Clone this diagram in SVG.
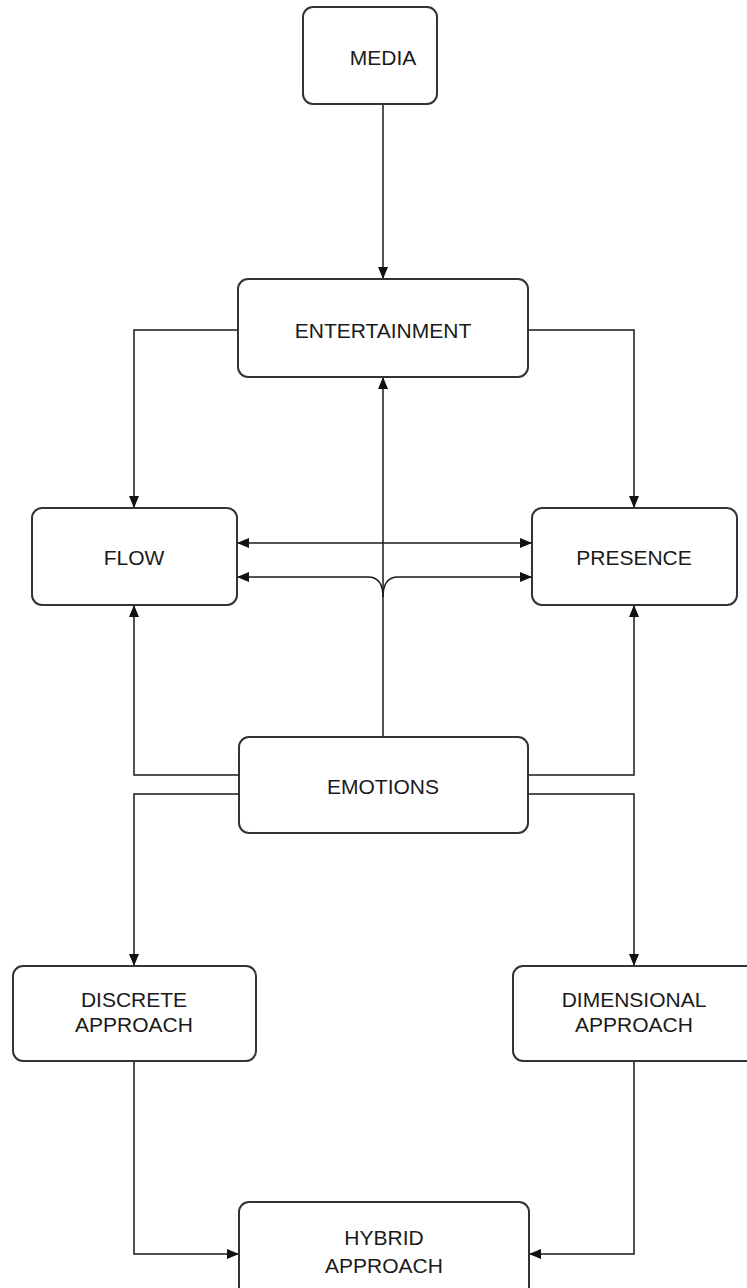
<svg xmlns="http://www.w3.org/2000/svg" width="747" height="1288" viewBox="0 0 747 1288">
<defs>
<marker id="ah" viewBox="0 0 12 10" refX="12" refY="5" markerWidth="12" markerHeight="10" markerUnits="userSpaceOnUse" orient="auto-start-reverse">
<path d="M0,0 L12,5 L0,10 z" fill="#111"/>
</marker>
<style>
.box{fill:#fff;stroke:#333;stroke-width:2}
.lbl{font-family:"Liberation Sans",Arial,sans-serif;font-size:21px;fill:#1a1a1a;text-anchor:middle}
.c{fill:none;stroke:#1a1a1a;stroke-width:1.5}
</style>
</defs>
<rect width="747" height="1288" fill="#fff"/>
<g id="connectors">
<path class="c" d="M383,104 V279" marker-end="url(#ah)"/>
<path class="c" d="M238,330 H134 V508" marker-end="url(#ah)"/>
<path class="c" d="M528,330 H634 V508" marker-end="url(#ah)"/>
<path class="c" d="M383,737 V377" marker-end="url(#ah)"/>
<path class="c" d="M237,543 H532" marker-start="url(#ah)" marker-end="url(#ah)"/>
<path class="c" d="M237,577 H368 Q383,577 383,597 Q383,577 398,577 H532" marker-start="url(#ah)" marker-end="url(#ah)"/>
<path class="c" d="M239,775 H134 V605" marker-end="url(#ah)"/>
<path class="c" d="M239,794 H134 V966" marker-end="url(#ah)"/>
<path class="c" d="M528,775 H634 V605" marker-end="url(#ah)"/>
<path class="c" d="M528,794 H634 V966" marker-end="url(#ah)"/>
<path class="c" d="M134,1061 V1254 H239" marker-end="url(#ah)"/>
<path class="c" d="M634,1061 V1254 H529" marker-end="url(#ah)"/>
</g>
<g id="media"><rect class="box" x="303" y="7" width="134" height="97" rx="10"/><text class="lbl" x="383" y="65">MEDIA</text></g>
<g id="entertainment"><rect class="box" x="238" y="279" width="290" height="98" rx="10"/><text class="lbl" x="383" y="338">ENTERTAINMENT</text></g>
<g id="flow"><rect class="box" x="32" y="508" width="205" height="97" rx="10"/><text class="lbl" x="134" y="565">FLOW</text></g>
<g id="presence"><rect class="box" x="532" y="508" width="205" height="97" rx="10"/><text class="lbl" x="634" y="565">PRESENCE</text></g>
<g id="emotions"><rect class="box" x="239" y="737" width="289" height="96" rx="10"/><text class="lbl" x="383" y="794">EMOTIONS</text></g>
<g id="discrete"><rect class="box" x="13" y="966" width="243" height="95" rx="10"/><text class="lbl" x="134" y="1007">DISCRETE</text><text class="lbl" x="134" y="1032">APPROACH</text></g>
<g id="dimensional"><rect class="box" x="513" y="966" width="243" height="95" rx="10"/><text class="lbl" x="634" y="1007">DIMENSIONAL</text><text class="lbl" x="634" y="1032">APPROACH</text></g>
<g id="hybrid"><rect class="box" x="239" y="1202" width="290" height="96" rx="10"/><text class="lbl" x="384" y="1245">HYBRID</text><text class="lbl" x="384" y="1273">APPROACH</text></g>
</svg>
